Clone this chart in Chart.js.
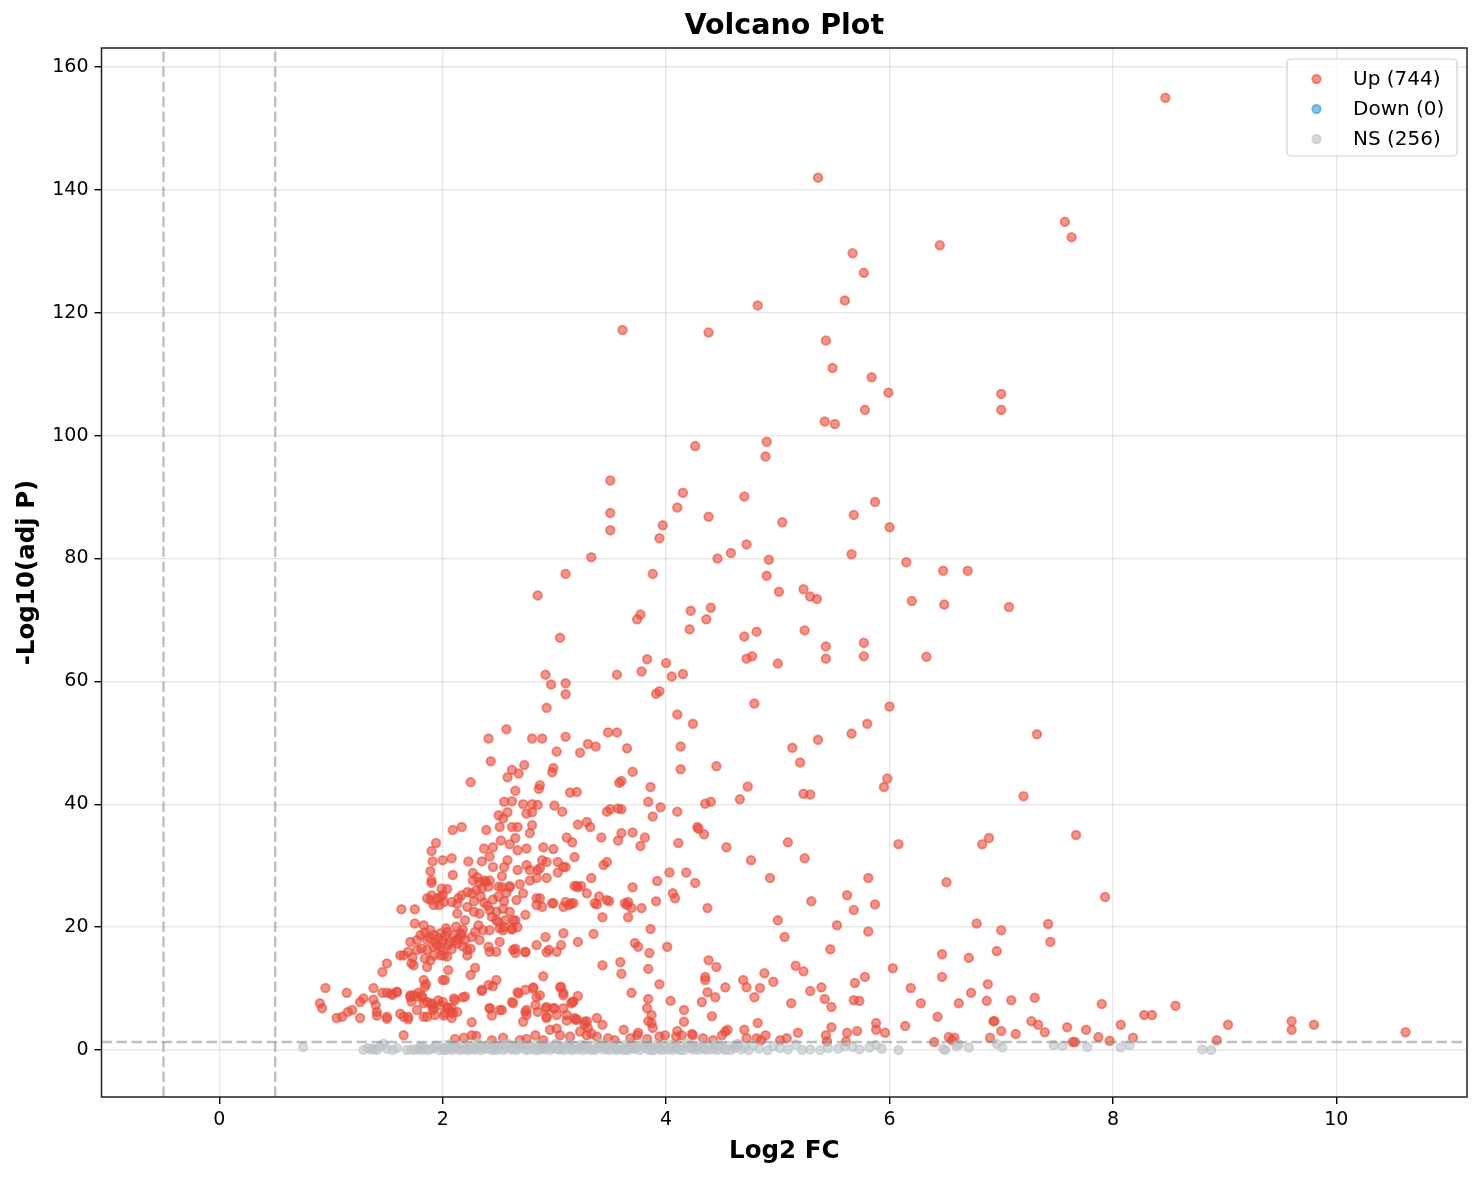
<!DOCTYPE html>
<html>
<head>
<meta charset="utf-8">
<title>Volcano Plot</title>
<script src="https://cdn.jsdelivr.net/npm/chart.js@4.4.1/dist/chart.umd.min.js"></script>
<style>
  html, body { margin: 0; padding: 0; background: #fff; }
  #chart { display: block; }
</style>
</head>
<body>
<canvas id="chart" width="1482" height="1180"></canvas>
<script>
// series labels as shown in the legend
const seriesLabels = ['Up (744)', 'Down (0)', 'NS (256)'];

// [log2 fold change, -log10 adjusted p]
const upPoints = [
  // upper part, y > 38
  [8.47,155],[5.36,142],[7.57,134.8],[7.63,132.3],[6.45,131],[5.67,129.7],[5.77,126.5],[5.6,122],[4.82,121.2],
  [3.61,117.2],[4.38,116.8],[5.43,115.5],[5.49,111],[5.84,109.5],[7.0,106.8],[5.99,107],[5.78,104.2],[7.0,104.2],
  [5.42,102.3],[5.51,101.9],[4.9,99],[4.26,98.3],[4.89,96.6],[3.5,92.7],[4.15,90.7],[4.7,90.1],[5.87,89.2],
  [3.5,87.4],[4.1,88.3],[4.38,86.8],[5.68,87.1],[5.04,85.9],[3.97,85.4],[3.5,84.6],[6.0,85.1],[3.94,83.3],
  [4.72,82.3],[4.58,80.9],[4.46,80.0],[3.33,80.2],[5.66,80.7],[4.92,79.8],[6.15,79.4],[3.1,77.5],[3.88,77.5],
  [4.9,77.2],[6.48,78],[6.7,78],[5.23,75],[5.01,74.6],[2.85,74],[5.29,73.8],[5.35,73.4],[6.2,73.1],[6.49,72.5],
  [7.07,72.1],[4.4,72],[4.22,71.5],[3.77,70.9],[3.74,70.1],[4.36,70.1],[4.21,68.5],[5.24,68.3],[4.81,68.1],
  [4.7,67.3],[3.05,67.1],[5.77,66.3],[5.43,65.7],[6.33,64],[4.77,64.1],[4.72,63.7],[5.43,63.7],[5.77,64.1],
  [3.83,63.6],[4.0,63.0],[5.0,62.9],[3.78,61.6],[3.56,61.1],[2.92,61.1],[4.05,60.8],[4.15,61.2],[2.97,59.5],
  [3.1,59.7],[3.94,58.4],[3.91,58.0],[3.1,57.9],[4.79,56.4],[6.0,55.9],[2.93,55.7],[4.1,54.6],[4.24,53.1],
  [5.8,53.1],[2.57,52.2],[3.48,51.7],[3.56,51.7],[7.32,51.4],[5.66,51.5],[2.41,50.7],[2.8,50.7],[2.89,50.7],
  [3.1,51.0],[5.36,50.5],[3.3,49.8],[3.37,49.4],[3.65,49.1],[4.13,49.4],[5.13,49.2],[3.23,48.4],[3.02,48.6],
  [2.43,47.0],[5.2,46.8],[2.73,46.4],[4.45,46.2],[2.62,45.6],[2.99,45.9],[2.68,45.0],[4.13,45.7],[2.98,45.2],
  [3.7,45.3],[2.58,44.4],[5.98,44.2],[2.25,43.6],[3.6,43.8],[3.58,43.5],[4.73,42.9],[5.95,42.8],[3.86,42.8],
  [2.65,42.2],[2.87,43.1],[2.86,42.5],[3.2,42.0],[3.14,41.9],[5.23,41.7],[5.29,41.6],[7.2,41.3],[4.66,40.8],
  [4.4,40.4],[3.84,40.4],[4.35,40.1],[2.55,40.4],[2.72,40.0],[2.8,40.0],[3.95,39.5],[3.5,39.2],[2.85,39.9],
  [3.6,39.2],[3.47,38.8],[4.1,38.8],[3.07,38.8],[3.88,38.0],[3.57,39.3],
  // dense cluster, y 25 - 38
  [2.62,40.5],[2.75,38.5],[2.8,38.7],[3.0,39.8],[2.5,38.2],[2.54,37.7],[2.58,38.7],[2.51,36.3],[2.62,36.3],
  [2.67,36.3],[2.8,36.6],[2.78,35.3],[2.09,35.8],[2.17,36.3],[2.39,35.8],[3.11,34.6],[3.16,33.8],[1.94,33.7],
  [1.9,32.4],[2.37,32.8],[2.45,33.0],[2.52,34.1],[2.6,33.5],[2.65,34.5],[2.67,32.5],[2.75,32.8],[2.9,33.0],
  [2.99,32.7],[3.18,31.4],[2.0,30.9],[2.08,31.2],[1.91,30.7],[2.23,30.7],[2.35,30.7],[2.42,31.5],[2.45,29.8],
  [2.55,29.8],[2.58,30.9],[2.67,29.3],[2.75,30.1],[2.78,29.3],[2.85,29.3],[2.89,30.9],[2.93,30.6],[3.03,30.6],
  [3.08,29.8],[1.89,29.1],[1.9,27.6],[2.27,28.8],[2.31,28.1],[2.33,27.3],[2.37,27.6],[2.42,27.6],[2.27,27.6],
  [2.09,28.5],[2.53,28.3],[2.53,26.5],[2.6,26.5],[2.69,27.0],[2.78,27.6],[2.84,28.0],[2.87,29.6],[2.93,28.0],
  [3.03,28.9],[3.1,29.8],[3.18,26.7],[2.04,26.2],[2.0,25.2],[1.86,24.7],[1.9,25.2],[1.97,23.6],
  [3.21,36.7],[3.29,37.1],[3.32,36.3],[4.28,36.3],[4.29,36.0],[4.34,35.1],[4.11,33.7],[4.54,33.0],[5.09,33.8],
  [5.24,31.2],[4.76,30.9],[3.42,34.6],[3.57,34.1],[3.6,35.3],[3.7,35.4],[3.81,34.6],[3.77,33.2],[3.44,30.1],
  [3.47,30.6],[4.03,28.9],[4.18,28.9],[4.26,27.2],[3.92,27.5],[3.7,26.5],[3.33,28.0],[3.21,26.5],[3.29,25.5],
  [6.08,33.5],[6.83,33.5],[6.89,34.5],[7.67,35.0],[6.51,27.3],[7.93,24.9],
  // cluster, y 10 - 27
  [1.90,27.2],[1.99,26.3],[1.63,22.9],[1.75,22.9],[1.89,24.4],[1.92,23.6],[1.95,24.7],[1.98,24.9],[2.01,24.1],
  [2.08,24.1],[2.13,23.8],[2.14,24.7],[2.17,25.2],[2.22,25.7],[2.26,25.5],[2.3,26.0],[2.35,26.3],[2.41,26.6],
  [2.39,27.4],[2.5,26.6],[2.6,26.7],[2.72,25.5],[2.66,24.4],[2.84,24.7],[2.89,23.3],[2.98,23.9],[3.08,23.3],
  [3.15,23.9],[3.2,26.7],[3.24,26.7],[2.13,22.2],[2.22,23.3],[2.28,22.5],[2.33,22.2],[2.42,22.8],[2.48,22.5],
  [2.54,23.0],[2.6,22.5],[2.65,21.1],[2.56,21.1],[2.48,21.1],[2.44,21.7],[2.2,21.1],[2.32,20.3],[2.36,19.5],
  [2.42,19.5],[2.51,19.8],[2.62,19.6],[1.75,20.6],[1.83,20.3],[1.89,19.5],[1.8,18.7],[1.71,17.6],[1.77,17.9],
  [1.86,17.9],[1.92,18.7],[1.98,19.0],[2.04,19.2],[2.1,18.7],[2.16,19.0],[2.2,17.9],[2.13,17.3],[2.05,17.1],
  [1.98,16.8],[1.92,16.8],[1.86,16.3],[1.81,16.5],[1.77,16.3],[2.25,16.5],[2.22,15.4],[2.04,15.2],[2.01,15.4],
  [1.92,15.4],[1.89,14.6],[1.84,14.9],[1.72,14.1],[1.65,15.4],[1.69,16.0],[2.22,16.3],[2.33,17.9],[2.41,16.8],
  [2.42,16.0],[2.48,16.0],[2.51,17.6],[2.54,19.5],[2.62,19.8],[2.65,16.5],[2.74,16.0],[2.84,17.1],[2.92,18.4],
  [2.95,16.3],[3.02,16.0],[3.06,17.1],[3.08,19.0],[3.21,17.6],[2.29,13.4],[2.25,12.2],[2.05,13.0],[2.02,11.4],
  [1.83,11.4],[1.84,10.3],[2.9,12.0],[2.48,11.4],[2.45,10.4],[2.41,10.6],[1.94,17.5],[1.96,18.2],[2.0,17.8],
  [2.02,18.5],[2.06,17.6],[2.08,16.4],[2.11,17.8],[2.14,18.1],[2.18,16.9],[2.0,16.2],[1.95,17.0],[2.03,19.8],
  [2.12,20.1],[2.18,19.6],[2.26,18.4],[2.29,19.2],[1.88,18.3],[1.84,19.1],[2.37,24.0],[2.4,23.5],[2.45,24.5],
  [2.5,25.0],[2.55,24.2],[2.34,25.0],[2.28,24.2],[2.57,25.6],[2.5,20.8],[2.55,20.0],[2.63,21.1],[2.67,20.0],
  [2.74,22.0],[2.84,23.6],[2.87,24.7],[2.99,23.9],[3.1,24.1],[3.13,23.6],[3.17,23.9],[2.63,16.3],[2.65,15.8],
  [2.74,15.9],[2.93,15.9],[1.62,15.4],[1.73,15.1],[1.74,13.8],[1.85,10.7],[2.0,11.4],[1.86,13.5],[1.98,15.4],
  [2.17,18.7],[1.46,12.7],[1.5,14.1],[0.95,10.1],
  [3.4,25.0],[3.36,23.9],[3.38,23.7],[3.47,24.4],[3.49,24.2],[3.63,23.9],[3.66,24.1],[3.65,23.6],[3.69,23.1],
  [3.78,23.1],[3.66,21.6],[3.43,21.6],[3.91,24.2],[4.06,25.5],[4.08,24.7],[4.37,23.1],[4.93,28.0],[5.3,24.2],
  [5.62,25.2],[5.68,22.8],[5.81,28.0],[5.87,23.7],[5.0,21.1],[5.06,18.4],[5.53,20.3],[5.81,19.3],[5.47,16.4],
  [6.03,13.3],[3.86,19.7],[3.35,18.9],[3.72,17.4],[3.75,16.8],[3.85,15.8],[4.01,16.8],[3.43,13.8],[3.59,14.3],
  [3.6,12.4],[3.84,13.2],[3.94,10.7],[4.38,14.6],[4.45,13.5],[4.35,11.9],[4.35,11.4],[4.69,11.4],[4.72,10.2],
  [4.84,10.1],[4.88,12.5],[4.96,11.1],[4.53,10.2],[5.16,13.7],[5.23,12.8],[5.69,10.9],[5.78,11.9],[5.39,10.2],
  [6.78,20.6],[7.0,19.5],[7.42,20.5],[7.44,17.6],[6.47,15.6],[6.47,11.9],[6.71,15.0],[6.96,16.1],[6.19,10.1],
  [6.88,10.7],
  // lower part, y < 10
  [2.35,9.6],[1.59,9.5],[1.54,9.2],[1.71,8.9],[1.77,8.7],[1.81,8.9],[1.72,7.9],[1.83,7.6],[1.9,7.3],[1.98,7.3],
  [1.92,6.8],[2.04,7.0],[2.1,8.4],[2.2,8.7],[2.08,6.8],[2.13,6.2],[2.68,9.2],[2.74,9.8],[2.81,10.0],[2.87,8.9],
  [3.06,10.3],[3.08,8.9],[3.15,7.6],[3.21,8.8],[2.42,6.8],[2.53,6.5],[2.63,7.6],[2.74,6.2],[2.83,7.3],[2.92,6.8],
  [2.99,6.8],[3.02,5.7],[3.08,6.8],[3.17,7.9],[0.9,7.6],[0.92,6.8],[1.05,5.2],[1.1,5.4],[1.15,6.2],[1.19,6.5],
  [1.26,5.2],[1.65,2.4],[2.26,4.5],[1.14,9.3],[1.26,7.8],[1.29,8.4],[1.38,10.1],[1.38,8.2],[1.4,7.3],[1.41,6.2],
  [1.46,9.3],[1.5,9.3],[1.55,9.0],[1.59,9.4],[1.5,5.4],[1.62,5.9],[1.69,5.4],[1.71,8.6],[1.74,8.9],[1.78,9.3],
  [1.82,8.5],[1.86,7.8],[1.9,7.6],[1.91,6.5],[1.96,8.1],[2.0,7.8],[2.05,6.8],[2.07,6.2],[2.09,6.0],[2.11,8.1],
  [2.18,8.6],[1.77,6.5],[1.86,5.4],[1.93,5.7],[2.02,6.0],[2.08,5.2],[2.35,9.8],[2.42,6.8],[2.51,6.5],[2.62,7.8],
  [2.67,9.4],[2.81,10.2],[2.75,6.5],[2.72,4.6],[2.84,8.6],[2.85,6.2],[2.93,7.0],[2.93,5.4],[3.0,6.8],[3.05,10.2],
  [3.08,9.3],[3.11,5.7],[3.16,7.8],[3.18,5.2],[3.69,9.3],[4.37,9.4],[4.44,8.6],[4.32,7.8],[4.79,8.6],[5.12,7.6],
  [5.29,9.6],[5.42,8.3],[5.48,7.0],[5.68,8.1],[5.73,8.0],[3.84,8.3],[3.83,6.8],[3.87,5.7],[3.84,4.7],[3.87,4.4],
  [3.88,3.6],[4.04,8.0],[4.16,6.5],[4.16,4.6],[4.41,5.5],[3.38,5.2],[3.43,4.1],[3.19,4.9],[3.27,4.6],[3.3,3.6],
  [3.29,2.4],[3.62,3.3],[3.75,2.8],[4.1,3.1],[4.23,2.6],[4.55,3.3],[4.7,3.3],[4.82,4.4],[4.89,2.4],[5.18,2.8],
  [5.43,2.4],[5.48,3.7],[5.62,2.8],[5.71,3.1],[5.88,4.4],[5.88,3.3],[5.96,2.8],
  [3.33,2.7],[3.38,2.2],[3.48,1.9],[3.54,1.6],[3.68,1.9],[3.74,2.4],[3.83,1.8],[3.94,2.2],[3.99,2.4],[4.09,2.2],
  [4.14,2.4],[4.24,2.4],[4.33,1.9],[4.42,1.6],[4.5,2.4],[4.53,3.0],[4.72,1.9],[4.81,1.9],[4.85,1.6],[5.02,1.6],
  [5.08,1.9],[5.44,1.4],[5.61,1.4],
  [2.11,1.8],[2.19,2.0],[2.26,2.4],[2.3,2.3],[2.44,1.6],[2.54,2.0],[2.69,1.6],[2.75,1.8],[2.83,2.4],[2.9,1.6],
  [2.96,3.3],[3.02,3.5],[3.05,2.4],[3.14,2.2],[3.23,3.0],[3.27,4.1],[1.41,5.6],[1.5,5.1],[1.65,5.4],[1.69,5.0],
  [1.83,5.4],[2.01,5.6],[2.44,5.6],[2.75,5.7],[2.93,5.2],[3.11,4.8],[3.2,5.0],[3.29,4.7],
  [6.28,7.6],[6.43,5.4],[6.62,7.6],[6.73,9.3],[6.87,8.0],[6.93,4.7],[6.94,4.7],[7.0,3.1],[7.09,8.1],[7.13,2.6],
  [6.9,2.0],[7.3,8.5],[7.27,4.7],[7.33,4.1],[7.39,2.9],[6.14,3.9],[6.4,1.3],[6.53,2.1],[6.58,2.0],[6.56,1.6],
  [7.59,3.7],[7.64,1.3],[7.66,1.3],[7.76,3.3],[7.87,2.1],[7.97,1.5],[7.9,7.5],[8.07,4.1],[8.18,2.0],[8.28,5.7],
  [8.35,5.7],[8.56,7.2],[9.03,4.1],[8.93,1.6],[9.6,4.7],[9.6,3.3],[9.8,4.1],[10.62,2.9]
];

const downPoints = [];

const nsPoints = [
  [0.75,0.5],[1.29,0.0],[1.33,0.3],[1.36,0.1],[1.38,0.2],[1.41,0.0],[1.44,0.6],[1.47,1.0],[1.5,0.2],[1.55,0.0],
  [1.59,0.3],[1.68,0.0],[1.72,0.1],[1.75,0.0],[1.78,0.2],[1.8,0.5],[1.81,0.0],[1.83,0.4],[1.86,0.0],[1.89,0.1],
  [1.92,0.3],[1.94,0.7],[1.97,0.0],[2.0,0.3],[2.02,0.0],[2.03,0.1],[2.05,0.9],[2.07,0.4],[2.08,0.0],[2.1,0.5],
  [2.12,0.6],[2.13,0.2],[2.16,0.0],[2.18,0.8],[2.2,0.1],[2.21,0.3],[2.23,0.0],[2.26,0.6],[2.27,0.2],[2.29,0.1],
  [2.31,1.1],[2.33,0.5],[2.34,0.0],[2.36,0.4],[2.39,0.2],[2.41,0.9],[2.43,0.3],[2.44,0.0],[2.46,0.5],[2.47,0.0],
  [2.49,0.1],[2.51,0.7],[2.53,0.9],[2.54,0.0],[2.56,0.3],[2.59,1.0],[2.61,0.1],[2.63,0.2],[2.64,0.6],[2.66,0.0],
  [2.67,0.8],[2.69,0.3],[2.71,0.8],[2.73,0.6],[2.74,0.1],[2.76,0.0],[2.79,0.5],[2.81,0.2],[2.83,0.0],[2.84,0.9],
  [2.86,0.0],[2.87,0.6],[2.89,0.4],[2.91,0.1],[2.93,0.4],[2.94,0.7],[2.96,0.0],[2.99,0.3],[3.01,1.0],[3.03,0.2],
  [3.04,0.1],[3.06,0.5],[3.07,0.3],[3.09,0.0],[3.11,0.8],[3.13,0.9],[3.14,0.2],[3.16,0.0],[3.19,0.6],[3.21,0.1],
  [3.23,0.4],[3.24,0.9],[3.26,0.0],[3.27,0.7],[3.29,0.4],[3.31,0.2],[3.33,0.0],[3.34,0.7],[3.36,0.0],[3.39,0.3],
  [3.41,1.1],[3.43,0.6],[3.44,0.1],[3.46,0.5],[3.47,0.2],[3.49,0.0],[3.51,0.8],[3.53,0.4],[3.54,0.2],[3.56,0.0],
  [3.59,0.6],[3.61,0.1],[3.63,0.0],[3.64,0.9],[3.66,0.0],[3.67,0.5],[3.69,0.4],[3.71,0.2],[3.73,0.3],[3.74,0.7],
  [3.76,0.0],[3.79,1.0],[3.81,0.3],[3.83,0.8],[3.84,0.1],[3.86,0.5],[3.87,0.0],[3.89,0.0],[3.91,0.8],[3.93,0.5],
  [3.94,0.2],[3.96,0.0],[3.99,0.6],[4.01,0.1],[4.03,0.3],[4.04,0.9],[4.06,0.0],[4.07,0.6],[4.09,0.4],[4.11,0.2],
  [4.13,0.0],[4.14,0.7],[4.16,0.0],[4.19,1.1],[4.21,0.3],[4.23,0.7],[4.24,0.1],[4.26,0.5],[4.27,0.3],[4.29,0.0],
  [4.31,0.8],[4.33,0.5],[4.34,0.2],[4.36,0.0],[4.39,0.6],[4.41,0.1],[4.43,0.3],[4.44,0.9],[4.46,0.0],[4.47,0.7],
  [4.49,0.4],[4.52,0.2],[4.53,0.0],[4.55,0.7],[4.58,0.0],[4.61,0.3],[4.63,0.6],[4.64,1.0],[4.67,0.1],[4.7,0.5],
  [4.74,0.0],[4.78,0.8],[4.83,0.2],[4.91,0.0],[4.96,0.6],[5.02,0.3],[5.09,0.1],[5.16,0.9],[5.22,0.0],[5.29,0.1],
  [5.38,0.0],[5.45,0.3],[5.54,0.2],[5.6,0.6],[5.67,0.5],[5.73,0.1],[5.82,0.4],[5.88,0.8],[5.93,0.2],[6.08,0.0],
  [6.48,0.2],[6.5,0.0],[6.6,0.6],[6.62,0.9],[6.71,0.4],[6.96,1.0],[7.01,0.4],[7.47,0.8],[7.55,0.7],[7.77,0.5],
  [8.07,0.4],[8.15,0.8],[8.8,0.1],[8.88,0.0]
];

const xTickValues = [0, 2, 4, 6, 8, 10];
const yTickValues = [0, 20, 40, 60, 80, 100, 120, 140, 160];

// significance cut-offs drawn as dashed guide lines
const fcCut = 0.5;
const pCut = 1.301;

// axis window
const X_MIN = -1.055, X_MAX = 11.17;
const Y_MIN = -7.65, Y_MAX = 163.1;

const FONT = '"DejaVu Sans", "Liberation Sans", sans-serif';
const toXY = pts => pts.map(p => ({ x: p[0], y: p[1] }));

const guideStyle = {
  showLine: true,
  pointRadius: 0,
  borderColor: 'rgba(128,128,128,0.5)',
  borderWidth: 2.4,
  borderDash: [10.5, 4.5],
  order: 1,
  inLegend: false
};

// matplotlib-like frame around the plot area
const frame = {
  id: 'frame',
  afterDatasetsDraw(chart) {
    const { ctx, chartArea: a } = chart;
    ctx.save();
    ctx.strokeStyle = '#222';
    ctx.lineWidth = 1.5;
    ctx.strokeRect(a.left, a.top, a.right - a.left, a.bottom - a.top);
    ctx.restore();
  }
};

// legend box in the upper right corner of the plot
const cornerLegend = {
  id: 'cornerLegend',
  afterDraw(chart) {
    const { ctx, chartArea: a } = chart;
    const items = chart.data.datasets.filter(d => d.inLegend);
    const w = 170, h = 97;
    const bx = a.right - 10 - w, by = a.top + 11;
    ctx.save();
    ctx.beginPath();
    ctx.roundRect(bx, by, w, h, 4);
    ctx.fillStyle = 'rgba(255,255,255,0.8)';
    ctx.fill();
    ctx.strokeStyle = '#d0d0d0';
    ctx.lineWidth = 1.2;
    ctx.stroke();
    ctx.font = '20px ' + FONT;
    ctx.textBaseline = 'middle';
    items.forEach((d, i) => {
      const y = by + 20 + i * 30;
      ctx.beginPath();
      ctx.arc(bx + 29.5, y, 4.2, 0, Math.PI * 2);
      ctx.fillStyle = d.backgroundColor;
      ctx.fill();
      ctx.strokeStyle = d.borderColor;
      ctx.lineWidth = 1.9;
      ctx.stroke();
      ctx.fillStyle = '#000';
      ctx.fillText(d.label, bx + 66, y + 1);
    });
    ctx.restore();
  }
};

const ctx = document.getElementById('chart').getContext('2d');

new Chart(ctx, {
  type: 'scatter',
  data: {
    datasets: [
      {
        label: seriesLabels[0],
        data: toXY(upPoints),
        backgroundColor: 'rgba(231,76,60,0.6)',
        borderColor: 'rgba(231,76,60,0.6)',
        borderWidth: 1.9,
        pointRadius: 4.3,
        order: 4,
        inLegend: true
      },
      {
        label: seriesLabels[1],
        data: toXY(downPoints),
        backgroundColor: 'rgba(52,152,219,0.6)',
        borderColor: 'rgba(52,152,219,0.6)',
        borderWidth: 1.9,
        pointRadius: 4.3,
        order: 3,
        inLegend: true
      },
      {
        label: seriesLabels[2],
        data: toXY(nsPoints),
        backgroundColor: 'rgba(189,195,199,0.6)',
        borderColor: 'rgba(189,195,199,0.6)',
        borderWidth: 1.9,
        pointRadius: 4.3,
        order: 2,
        inLegend: true
      },
      Object.assign({ label: 'fc-', data: [{ x: -fcCut, y: Y_MIN }, { x: -fcCut, y: Y_MAX }] }, guideStyle),
      Object.assign({ label: 'fc+', data: [{ x: fcCut, y: Y_MIN }, { x: fcCut, y: Y_MAX }] }, guideStyle),
      Object.assign({ label: 'p', data: [{ x: X_MIN, y: pCut }, { x: X_MAX, y: pCut }] }, guideStyle)
    ]
  },
  options: {
    responsive: false,
    animation: false,
    events: [],
    layout: { padding: { left: 0, right: 15, top: 0, bottom: 0 }, autoPadding: false },
    plugins: {
      legend: { display: false },
      tooltip: { enabled: false },
      title: {
        display: true,
        fullSize: false,
        text: 'Volcano Plot',
        color: '#000',
        font: { family: FONT, size: 28.5, weight: 'bold', lineHeight: 1.2 },
        padding: { top: 9.6, bottom: 4.2 }
      }
    },
    scales: {
      x: {
        type: 'linear',
        min: X_MIN,
        max: X_MAX,
        afterBuildTicks: s => { s.ticks = xTickValues.map(v => ({ value: v })); },
        afterFit: s => { s.height = 83; },
        border: { display: false },
        grid: { color: 'rgba(176,176,176,0.3)', lineWidth: 1.4, tickLength: 7, tickColor: '#000', tickWidth: 1.4 },
        ticks: { color: '#000', font: { family: FONT, size: 19 }, padding: 5, maxRotation: 0 },
        title: {
          display: true,
          text: 'Log2 FC',
          color: '#000',
          font: { family: FONT, size: 24.5, weight: 'bold', lineHeight: 1.2 },
          padding: { top: 0, bottom: 13.8 }
        }
      },
      y: {
        type: 'linear',
        min: Y_MIN,
        max: Y_MAX,
        afterBuildTicks: s => { s.ticks = yTickValues.map(v => ({ value: v })); },
        afterFit: s => { s.width = 101.5; },
        border: { display: false },
        grid: { color: 'rgba(176,176,176,0.3)', lineWidth: 1.4, tickLength: 7, tickColor: '#000', tickWidth: 1.4 },
        ticks: { color: '#000', font: { family: FONT, size: 19 }, padding: 6 },
        title: {
          display: true,
          text: '-Log10(adj P)',
          color: '#000',
          font: { family: FONT, size: 24.5, weight: 'bold', lineHeight: 1.2 },
          padding: { top: 13.3, bottom: 0 }
        }
      }
    }
  },
  plugins: [frame, cornerLegend]
});
</script>
</body>
</html>
